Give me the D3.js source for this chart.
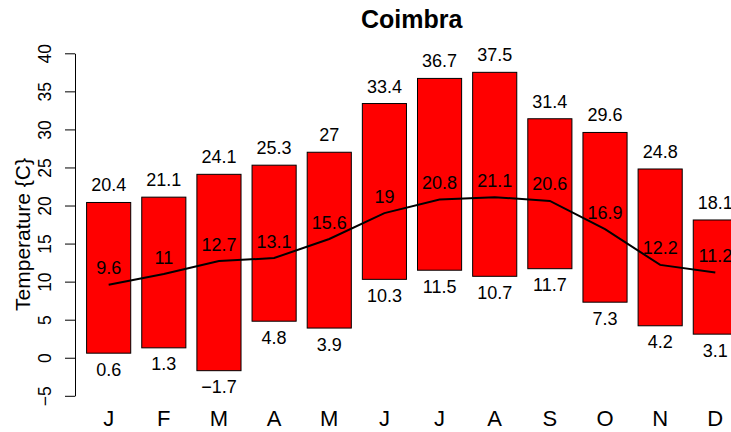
<!DOCTYPE html>
<html>
<head>
<meta charset="utf-8">
<script src="https://cdn.jsdelivr.net/npm/d3@7"></script>
<style>
  html, body { margin: 0; padding: 0; background: #fff; }
  svg { display: block; font-family: "Liberation Sans", Arial, Helvetica, sans-serif; }
</style>
</head>
<body>
<svg id="chart" width="731" height="432"></svg>
<script>
// Monthly temperatures for Coimbra (°C)
const months = ["J", "F", "M", "A", "M", "J", "J", "A", "S", "O", "N", "D"];
const maxTemp = [20.4, 21.1, 24.1, 25.3, 27, 33.4, 36.7, 37.5, 31.4, 29.6, 24.8, 18.1];
const meanTemp = [9.6, 11, 12.7, 13.1, 15.6, 19, 20.8, 21.1, 20.6, 16.9, 12.2, 11.2];
const minTemp = [0.6, 1.3, -1.7, 4.8, 3.9, 10.3, 11.5, 10.7, 11.7, 7.3, 4.2, 3.1];
const yTicks = [-5, 0, 5, 10, 15, 20, 25, 30, 35, 40];

const svg = d3.select("#chart");

// Bars are 1 unit wide with 0.25 units of space before each one
const barW = 1, gap = 0.25;
const step = barW + gap;
const x = d3.scaleLinear().domain([gap, gap + months.length * step]).range([86.6, 748.4]);
const y = d3.scaleLinear().domain([-5, 40]).range([395.8, 53.3]);

const left = i => x(gap + i * step);
const center = i => x(gap + i * step + barW / 2);
const fmt = v => String(v).replace("-", "\u2212");

// Title
svg.append("text")
  .attr("x", 411.7).attr("y", 27.5)
  .attr("text-anchor", "middle")
  .attr("font-size", 25).attr("font-weight", "bold")
  .text("Coimbra");

// Y axis: line, ticks, rotated labels
const yAxis = svg.append("g").attr("transform", "translate(75,0)")
  .call(d3.axisLeft(y).tickValues(yTicks).tickSize(10).tickSizeOuter(0).tickFormat(fmt));
yAxis.select(".domain").attr("stroke", "#000").attr("stroke-width", 1);
yAxis.selectAll(".tick line").attr("stroke", "#000");
yAxis.selectAll(".tick text")
  .attr("font-size", 17.5)
  .attr("font-family", "'Liberation Sans', Arial, sans-serif")
  .attr("fill", "#000")
  .attr("x", null).attr("dy", null)
  .attr("text-anchor", "middle")
  .attr("transform", "translate(-24.5,0) rotate(-90)");

// Y axis title
svg.append("text")
  .attr("transform", "translate(29.5,234.5) rotate(-90)")
  .attr("text-anchor", "middle")
  .attr("font-size", 21)
  .text("Temperature {C}");

// Range bars from monthly minimum to maximum
svg.append("g").selectAll("rect")
  .data(months)
  .join("rect")
  .attr("x", (d, i) => left(i))
  .attr("width", x(gap + barW) - x(gap))
  .attr("y", (d, i) => y(maxTemp[i]))
  .attr("height", (d, i) => y(minTemp[i]) - y(maxTemp[i]))
  .attr("fill", "#ff0000")
  .attr("stroke", "#000")
  .attr("stroke-width", 1);

// Mean temperature line
svg.append("path")
  .datum(meanTemp)
  .attr("d", d3.line().x((d, i) => center(i)).y(d => y(d)))
  .attr("fill", "none")
  .attr("stroke", "#000")
  .attr("stroke-width", 2);

// Value labels
const labels = svg.append("g").attr("font-size", 18).attr("text-anchor", "middle").attr("fill", "#000");
labels.selectAll("text.max").data(maxTemp).join("text").attr("class", "max")
  .attr("x", (d, i) => center(i)).attr("y", d => y(d) - 11)
  .text(fmt);
labels.selectAll("text.mean").data(meanTemp).join("text").attr("class", "mean")
  .attr("x", (d, i) => center(i)).attr("y", d => y(d) - 10.5)
  .text(fmt);
labels.selectAll("text.min").data(minTemp).join("text").attr("class", "min")
  .attr("x", (d, i) => center(i)).attr("y", d => y(d) + 22.5)
  .text(fmt);

// Month labels
svg.append("g").attr("font-size", 22).attr("text-anchor", "middle")
  .selectAll("text").data(months).join("text")
  .attr("x", (d, i) => center(i)).attr("y", 426)
  .text(d => d);
</script>
</body>
</html>
